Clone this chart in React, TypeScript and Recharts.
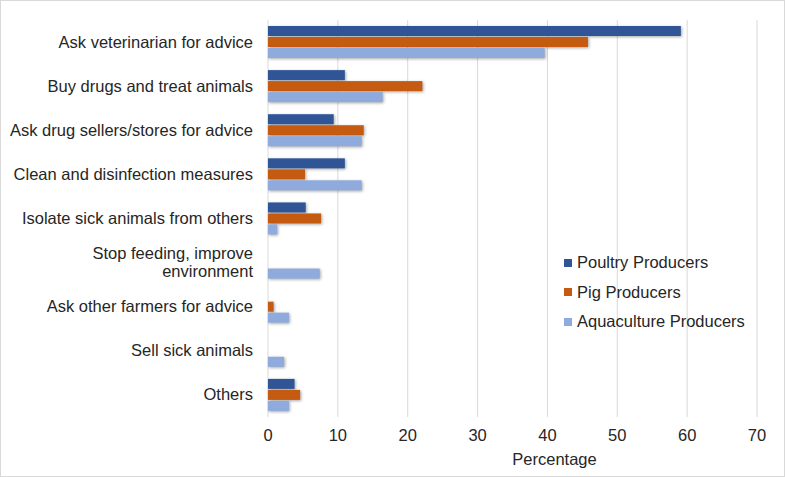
import { BarChart, Bar, XAxis, YAxis, CartesianGrid } from 'recharts';

const categories = [
  'Ask veterinarian for advice',
  'Buy drugs and treat animals',
  'Ask drug sellers/stores for advice',
  'Clean and disinfection measures',
  'Isolate sick animals from others',
  'Stop feeding, improve\nenvironment',
  'Ask other farmers for advice',
  'Sell sick animals',
  'Others',
];
const poultry = [59.1, 11.0, 9.4, 11.0, 5.4, 0, 0, 0, 3.8];
const pig = [45.8, 22.1, 13.7, 5.3, 7.6, 0, 0.8, 0, 4.6];
const aquaculture = [39.6, 16.4, 13.4, 13.4, 1.3, 7.4, 3.0, 2.3, 3.0];
const xTicks = [0, 10, 20, 30, 40, 50, 60, 70];

const series = [
  { key: 'poultry', name: 'Poultry Producers', color: '#2F5597' },
  { key: 'pig', name: 'Pig Producers', color: '#C55A11' },
  { key: 'aqua', name: 'Aquaculture Producers', color: '#8FAADC' },
];

const data = categories.map((name, i) => ({
  name,
  poultry: poultry[i],
  pig: pig[i],
  aqua: aquaculture[i],
}));

const FONT = '"Liberation Sans", Arial, sans-serif';
const TEXT = '#262626';
const FS = 16.5;

function CategoryTick(props: any) {
  const { x, y, payload } = props;
  const lines = String(payload.value).split('\n');
  const lh = 18.5;
  const start = -((lines.length - 1) * lh) / 2;
  return (
    <text x={x} y={y} textAnchor="end" fill={TEXT} fontSize={FS} fontFamily={FONT}>
      {lines.map((l, i) => (
        <tspan key={i} x={x} dy={i === 0 ? start + 5.5 : lh}>
          {l}
        </tspan>
      ))}
    </text>
  );
}

function ShadowBar(props: any) {
  const { x, y, width, height, fill } = props;
  if (!width || width <= 0) return null;
  return (
    <rect
      x={x}
      y={y}
      width={width}
      height={height}
      fill={fill}
      style={{ filter: 'drop-shadow(1.5px 1.5px 1.5px rgba(0,0,0,0.35))' }}
    />
  );
}

export default function App() {
  return (
    <div
      style={{
        position: 'absolute',
        left: 0,
        top: 0,
        width: 785,
        height: 477,
        boxSizing: 'border-box',
        border: '1px solid #d9d9d9',
        background: '#fff',
      }}
    >
      <BarChart
        width={783}
        height={475}
        data={data}
        layout="vertical"
        margin={{ top: 19, right: 27, bottom: 29, left: 0 }}
        barSize={10}
        barGap={1}
      >
        <CartesianGrid horizontal={false} stroke="#d9d9d9" strokeWidth={1} />
        <XAxis
          type="number"
          domain={[0, 70]}
          ticks={xTicks}
          axisLine={false}
          tickLine={false}
          tickSize={0}
          tickMargin={12}
          tick={{ fill: TEXT, fontSize: FS, fontFamily: FONT }}
          label={{
            value: 'Percentage',
            position: 'insideBottom',
            offset: -18,
            dx: 42,
            fill: TEXT,
            fontSize: FS,
            fontFamily: FONT,
          }}
        />
        <YAxis
          type="category"
          dataKey="name"
          width={267}
          axisLine={false}
          tickLine={false}
          tickSize={0}
          tickMargin={15}
          interval={0}
          tick={<CategoryTick />}
        />
        {series.map((s) => (
          <Bar
            key={s.key}
            dataKey={s.key}
            name={s.name}
            fill={s.color}
            isAnimationActive={false}
            shape={<ShadowBar />}
          />
        ))}
      </BarChart>
      <div
        style={{
          position: 'absolute',
          left: 563,
          top: 247,
          fontFamily: FONT,
          fontSize: FS,
          color: TEXT,
        }}
      >
        {series.map((s) => (
          <div key={s.key} style={{ display: 'flex', alignItems: 'center', height: 29.5 }}>
            <span
              style={{ width: 8, height: 8, background: s.color, marginRight: 5, display: 'inline-block' }}
            />
            {s.name}
          </div>
        ))}
      </div>
    </div>
  );
}
